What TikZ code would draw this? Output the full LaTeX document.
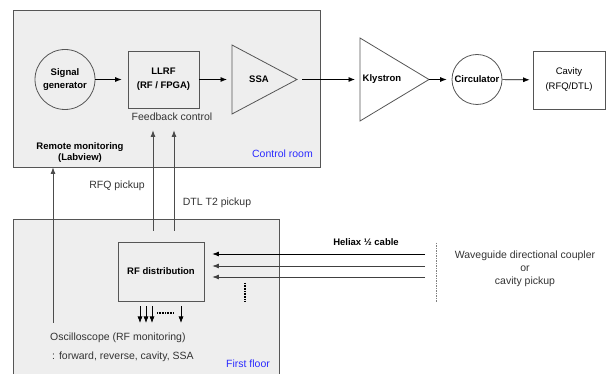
\documentclass[tikz,border=0pt]{standalone}
\usepackage{fontspec}
\setmainfont{Liberation Sans}
\usetikzlibrary{arrows.meta}
\definecolor{areafill}{HTML}{EEEEEE}
\definecolor{edge}{HTML}{555555}
\definecolor{txtgray}{HTML}{333333}
\definecolor{roomblue}{HTML}{2B2BFF}
\begin{document}
\begin{tikzpicture}[x=1pt,y=-1pt,
  area/.style={draw=edge, fill=areafill, line width=0.8pt},
  blk/.style={draw=edge, line width=0.8pt, inner sep=0pt},
  bl/.style={font=\fontsize{9.5}{13}\selectfont\bfseries, align=center},
  gr/.style={font=\fontsize{10.5}{13}\selectfont, text=txtgray, inner sep=0pt},
  room/.style={font=\fontsize{10.5}{12}\selectfont, text=roomblue, inner sep=0pt},
  arr/.style={-{Latex[length=6.5pt,width=5pt]}, line width=0.7pt},
  pick/.style={draw=black!70, line width=0.8pt, -{Latex[length=6.5pt,width=5pt]}}
]
\useasboundingbox (0,0) rectangle (606,374);
% areas
\node[area, rectangle, inner sep=0pt, minimum width=307pt, minimum height=157pt] (ctrl) at (166.5,88.5) {};
\fill[areafill] (13,219) rectangle (279,374);
\draw[edge, line width=0.8pt] (13,374) -- (13,219) -- (279,219) -- (279,374);
% main chain
\node[blk, circle, minimum size=60pt, bl] (sig) at (65,79.5) {Signal\\generator};
\node[blk, rectangle, minimum width=71pt, minimum height=57pt, bl, font=\fontsize{9.5}{14}\selectfont\bfseries] (llrf) at (163.5,79.5) {LLRF\\(RF / FPGA)};
\draw[blk] (232,45) -- (297,79.5) -- (232,114) -- cycle;
\coordinate (ssain) at (232,79.5);
\coordinate (ssaout) at (297,79.5);
\node[bl] (ssa) at (259,79.5) {SSA};
\draw[blk] (360,38) -- (429,79.5) -- (360,121) -- cycle;
\coordinate (klyin) at (360,79.5);
\coordinate (klyout) at (429,79.5);
\node[bl] (kly) at (382,79.5) {Klystron};
\node[blk, circle, minimum size=50pt, bl] (circ) at (477,79.5) {Circulator};
\node[blk, rectangle, minimum width=72pt, minimum height=58pt, align=center, font=\fontsize{9.5}{15}\selectfont] (cav) at (569,80) {Cavity\\(RFQ/DTL)};
\draw[arr, shorten >=6pt] (sig) -- (llrf);
\draw[arr, shorten >=5pt] (llrf) -- (ssain);
\draw[arr, shorten <=5pt, shorten >=5pt] (ssaout) -- (klyin);
\draw[arr, shorten >=5pt] (klyout) -- (circ);
\draw[arr, shorten >=3pt] (circ) -- (cav);
% control room labels
\node[gr] (fb) at (172,117) {Feedback control};
\node[bl, font=\fontsize{9.5}{11.5}\selectfont\bfseries] (remote) at (80,152.5) {Remote monitoring\\(Labview)};
\node[room] (ctrllab) at (282.5,154) {Control room};
% pickups
\coordinate (rfqp) at (153,231);
\coordinate (dtlp) at (174,231);
\draw[pick, shorten >=22pt] (rfqp) -- (rfqp |- llrf.south);
\draw[pick, shorten >=22pt] (dtlp) -- (dtlp |- llrf.south);
\node[gr] (rfql) at (117,186) {RFQ pickup};
\node[gr] (dtll) at (217,203) {DTL T2 pickup};
% remote monitoring line
\coordinate (oscp) at (53,323);
\draw[pick] (oscp) -- (oscp |- ctrl.south);
% RF distribution
\node[blk, rectangle, minimum width=86pt, minimum height=59pt, bl] (rfd) at (161,271.5) {RF distribution};
\coordinate (h1) at (425,254);
\coordinate (h2) at (425,266);
\coordinate (h3) at (425,277);
\draw[arr, shorten >=8pt] (h1) -- (h1 -| rfd.east);
\draw[arr, draw=black!75, shorten >=8pt] (h2) -- (h2 -| rfd.east);
\draw[arr, draw=black!75, shorten >=8pt] (h3) -- (h3 -| rfd.east);
\draw[line width=1.2pt, dash pattern=on 0.8pt off 0.8pt] (245,283) -- (245,301);
\coordinate (d1) at (140,323);
\coordinate (d2) at (146,323);
\coordinate (d3) at (152,323);
\coordinate (d4) at (181,323);
\draw[arr, shorten <=5pt] (rfd.south -| d1) -- (d1);
\draw[arr, shorten <=5pt] (rfd.south -| d2) -- (d2);
\draw[arr, shorten <=5pt] (rfd.south -| d3) -- (d3);
\draw[arr, shorten <=5pt] (rfd.south -| d4) -- (d4);
\draw[line width=1.2pt, dash pattern=on 0.8pt off 0.8pt] (157,313) -- (174,313);
% heliax and source
\node[bl] (hel) at (366,242) {Heliax ½ cable};
\draw[draw=black!50, line width=0.9pt, dash pattern=on 1.5pt off 1pt] (436,243) -- (436,302);
\node[gr, align=center] (wg) at (525,268.5) {Waveguide directional coupler\\or\\cavity pickup};
% first floor labels
\node[gr, anchor=west] (osc) at (50,338) {Oscilloscope (RF monitoring)};
\node[gr, anchor=west] (osc2) at (52,357) {: forward, reverse, cavity, SSA};
\node[room] (floorlab) at (248,364) {First floor};
\end{tikzpicture}
\end{document}
